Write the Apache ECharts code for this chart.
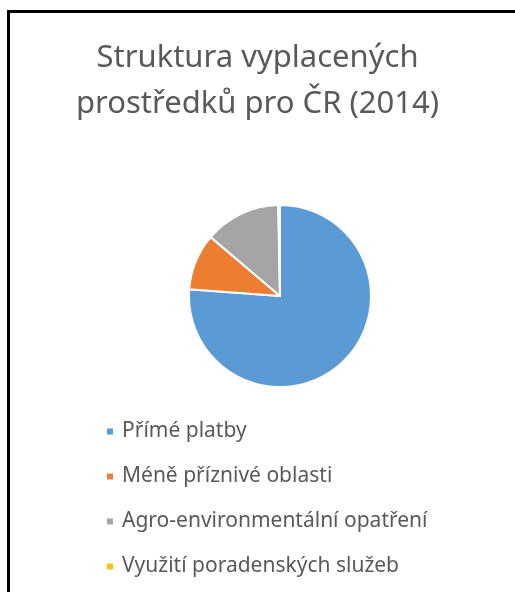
<!DOCTYPE html>
<html>
<head>
<meta charset="utf-8">
<script src="https://cdn.jsdelivr.net/npm/echarts@6/dist/echarts.min.js"></script>
<style>
  html, body { margin: 0; padding: 0; background: #fff; }
  #chart { width: 515px; height: 592px; }
  .frame {
    position: absolute;
    left: 7px;
    top: 10px;
    right: 0;
    bottom: 0;
    border-left: 3px solid #000;
    border-top: 3px solid #000;
    pointer-events: none;
  }
</style>
</head>
<body>
<div id="chart"></div>
<div class="frame"></div>
<script>
// data (share of payments, %)
var categories = ['Přímé platby', 'Méně příznivé oblasti', 'Agro-environmentální opatření', 'Využití poradenských služeb']
var values = [76.2, 10.0, 13.5, 0.3]
var colors = ['#5B9BD5', '#ED7D31', '#A5A5A5', '#FFC000']

var chart = echarts.init(document.getElementById('chart'))

var pieData = categories.map(function (name, i) {
  return { name: name, value: values[i], itemStyle: { color: colors[i] } }
})

chart.setOption({
  animation: false,
  title: {
    text: 'Struktura vyplacených\nprostředků pro ČR (2014)',
    left: 'center',
    top: 30,
    textStyle: {
      fontFamily: 'Noto Sans',
      fontSize: 31,
      fontWeight: 'normal',
      color: '#595959',
      lineHeight: 46
    }
  },
  legend: {
    orient: 'vertical',
    left: 100,
    top: 416,
    itemWidth: 8,
    itemHeight: 8,
    itemGap: 24,
    icon: 'rect',
    data: categories,
    textStyle: {
      fontFamily: 'Noto Sans',
      fontSize: 21,
      lineHeight: 21,
      color: '#595959',
      padding: [0, 0, 0, 3]
    }
  },
  series: [{
    type: 'pie',
    center: [280, 296],
    radius: 91,
    startAngle: 90,
    clockwise: true,
    label: { show: false },
    labelLine: { show: false },
    emphasis: { disabled: true },
    itemStyle: {
      borderColor: '#fff',
      borderWidth: 2
    },
    data: pieData
  }]
})
</script>
</body>
</html>
